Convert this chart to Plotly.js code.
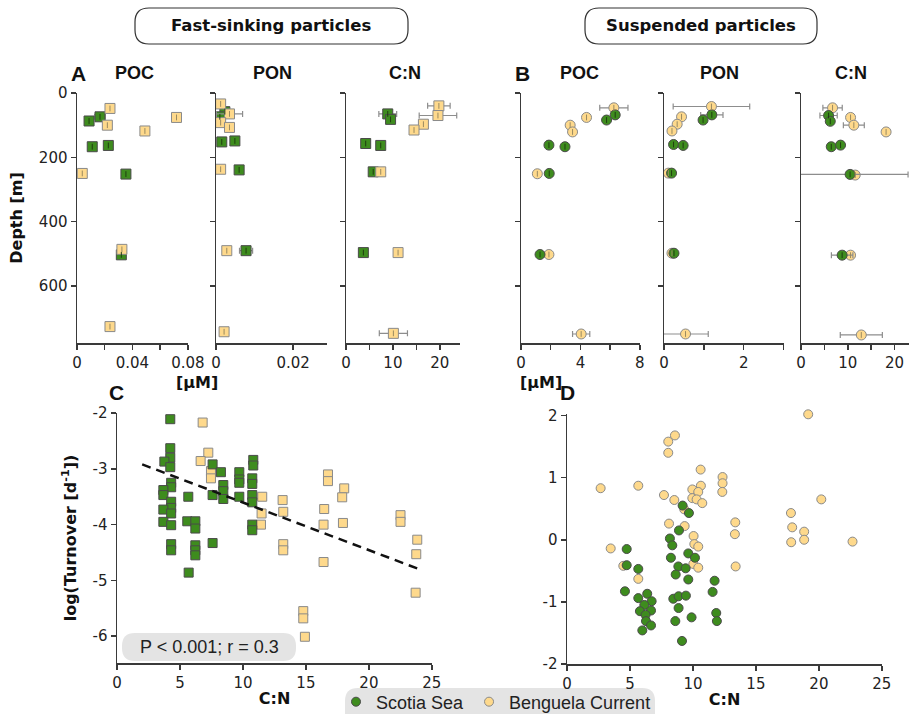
<!DOCTYPE html>
<html><head><meta charset="utf-8">
<script src="https://cdn.plot.ly/plotly-3.0.1.min.js"></script>
<style>html,body{margin:0;padding:0;background:#fff}#chart{width:910px;height:714px}</style>
</head><body><div id="chart"></div>
<script>
// ---------- Panel A: fast-sinking particles (squares) ----------
const aPocScotiaX = [0.0087, 0.0166, 0.011, 0.0226, 0.0353, 0.032];
const aPocScotiaDepth = [87, 74, 167, 163, 252, 503];
const aPocScotiaErr = [NaN, 0.0038, NaN, NaN, NaN, NaN];
const aPocBenguelaX = [0.0238, 0.0718, 0.0219, 0.049, 0.0038, 0.0324, 0.0238];
const aPocBenguelaDepth = [48, 76, 100, 118, 250, 486, 726];
const aPocBenguelaErr = [NaN, NaN, NaN, NaN, NaN, NaN, NaN];

const aPonScotiaX = [0.0023, 0.0010, 0.0015, 0.0049, 0.0060, 0.0078];
const aPonScotiaDepth = [58, 74, 152, 149, 239, 490];
const aPonScotiaErr = [NaN, NaN, NaN, NaN, NaN, 0.0017];
const aPonBenguelaX = [0.0012, 0.0035, 0.0012, 0.0035, 0.0012, 0.0028, 0.0021];
const aPonBenguelaDepth = [34, 65, 92, 107, 237, 490, 742];
const aPonBenguelaErr = [NaN, 0.0034, NaN, NaN, NaN, NaN, NaN];

const aCnScotiaX = [8.9, 9.5, 4.2, 7.4, 5.8, 3.7];
const aCnScotiaDepth = [65, 82, 157, 163, 245, 496];
const aCnScotiaErr = [1.9, NaN, NaN, NaN, NaN, NaN];
const aCnBenguelaX = [19.8, 19.6, 16.5, 14.5, 7.4, 11.1, 10.1];
const aCnBenguelaDepth = [40, 70, 97, 115, 245, 496, 747];
const aCnBenguelaErr = [2.4, 4.0, NaN, NaN, NaN, NaN, 3.0];

// ---------- Panel B: suspended particles (circles) ----------
const bPocScotiaX = [6.34, 5.76, 1.88, 2.96, 1.90, 1.28];
const bPocScotiaDepth = [68, 84, 162, 167, 250, 502];
const bPocScotiaErr = [NaN, NaN, NaN, NaN, NaN, NaN];
const bPocBenguelaX = [6.25, 4.41, 3.31, 3.47, 1.10, 1.88, 4.05];
const bPocBenguelaDepth = [46, 76, 100, 121, 251, 502, 749];
const bPocBenguelaErr = [0.95, NaN, NaN, NaN, NaN, NaN, 0.58];

const bPonScotiaX = [1.20, 0.98, 0.24, 0.48, 0.19, 0.25];
const bPonScotiaDepth = [68, 84, 160, 163, 249, 498];
const bPonScotiaErr = [0.28, NaN, NaN, NaN, NaN, NaN];
const bPonBenguelaX = [1.19, 0.44, 0.33, 0.20, 0.11, 0.20, 0.54];
const bPonBenguelaDepth = [42, 74, 97, 118, 249, 498, 749];
const bPonBenguelaErr = [0.96, NaN, NaN, NaN, NaN, NaN, 0.57];

const bCnScotiaX = [5.9, 6.26, 6.47, 8.46, 10.5, 8.8];
const bCnScotiaDepth = [70, 88, 167, 162, 253, 504];
const bCnScotiaErr = [1.85, NaN, NaN, NaN, 12.4, 2.3];
const bCnBenguelaX = [6.75, 10.6, 11.3, 18.2, 11.6, 10.6, 12.9];
const bCnBenguelaDepth = [46, 76, 100, 121, 255, 504, 752];
const bCnBenguelaErr = [2.07, NaN, 2.24, NaN, NaN, NaN, 4.5];

// ---------- Panel C: fast-sinking turnover vs C:N ----------
const cScotiaCN = [4.23,4.23,4.23,3.76,4.23,4.3,4.3,3.68,3.68,4.3,4.3,3.68,4.3,3.68,4.3,4.3,4.3,5.66,5.58,6.22,6.22,6.22,6.22,6.22,5.69,7.59,7.59,7.59,8.25,8.44,8.44,8.44,9.71,9.71,9.71,9.71,10.82,10.82,10.74,10.74,10.74,10.74,10.74,10.74];
const cScotiaTurn = [-2.11,-2.63,-2.80,-2.87,-2.97,-3.25,-3.33,-3.38,-3.47,-3.59,-3.70,-3.73,-3.80,-3.95,-4.01,-4.35,-4.46,-3.50,-3.94,-3.94,-4.07,-4.37,-4.46,-4.55,-4.86,-2.92,-3.47,-4.33,-3.06,-3.29,-3.40,-3.54,-3.06,-3.19,-3.25,-3.50,-2.84,-2.94,-3.17,-3.27,-3.47,-3.60,-4.00,-4.10];
const cBenguelaCN = [6.80,7.25,6.64,7.46,7.46,11.53,11.48,11.43,13.15,13.2,13.2,13.2,16.75,16.75,18.04,17.88,16.45,16.40,17.94,16.40,14.79,14.79,14.92,22.51,22.51,23.84,23.76,23.71];
const cBenguelaTurn = [-2.17,-2.71,-2.86,-3.04,-3.17,-3.50,-3.80,-4.00,-3.56,-3.77,-4.35,-4.46,-3.10,-3.22,-3.35,-3.51,-3.72,-4.00,-3.97,-4.67,-5.55,-5.68,-6.01,-3.83,-3.95,-4.27,-4.53,-5.22];
const cFitCN = [2.0, 23.9];
const cFitTurn = [-2.92, -4.79];

// ---------- Panel D: suspended turnover vs C:N ----------
const dScotiaCN = [9.18,9.68,8.89,8.17,8.36,8.25,4.74,4.74,9.63,10.16,8.84,9.42,8.63,9.63,5.66,4.60,5.66,6.37,6.72,6.14,5.79,6.67,6.24,6.27,6.67,5.98,8.44,8.86,9.44,8.86,8.60,9.89,9.13,11.72,11.56,11.85,11.90];
const dScotiaTurn = [0.55,0.43,0.15,0.02,-0.09,-0.29,-0.15,-0.41,-0.22,-0.29,-0.43,-0.46,-0.56,-0.64,-0.47,-0.83,-0.94,-0.87,-0.99,-1.05,-1.15,-1.14,-1.21,-1.31,-1.38,-1.46,-0.95,-0.91,-0.90,-1.10,-1.31,-1.25,-1.63,-0.66,-0.84,-1.18,-1.31];
const dBenguelaCN = [19.15,8.57,8.04,8.04,10.61,12.35,12.35,12.33,2.67,5.66,7.70,8.52,9.95,10.63,10.42,9.95,10.29,10.74,9.31,20.19,17.78,13.36,17.88,18.83,18.83,17.80,22.67,13.33,8.10,9.34,10.05,10.11,10.42,10.03,10.42,13.39,3.47,4.47,5.66];
const dBenguelaTurn = [2.02,1.68,1.58,1.40,1.13,1.01,0.91,0.77,0.83,0.87,0.72,0.64,0.81,0.87,0.77,0.67,0.65,0.59,0.49,0.65,0.43,0.28,0.20,0.13,0.00,-0.04,-0.03,0.09,0.26,0.22,0.06,-0.07,-0.11,-0.39,-0.45,-0.43,-0.14,-0.42,-0.63];

const seriesNames = ['Scotia Sea', 'Benguela Current'];

// ---------- styling / layout ----------
const W = 910, H = 714;
const GREEN = '#3e8c1e', YELLOW = '#fed98c';
const GREEN_LINE = '#4a4a4a', YELLOW_LINE = '#8a8a8a';
function xdom(a, b) { return [a / W, b / W]; }
function ydom(t, b) { return [1 - b / H, 1 - t / H]; }
function px(p) { return p / W; }
function py(p) { return 1 - p / H; }
function axName(n, l) { return l + (n === 1 ? '' : n); }

function pts(x, y, err, which, n, symbol, size, legend, clip) {
  const green = which === 0;
  const t = {
    type: 'scatter', mode: 'markers', x: x, y: y,
    xaxis: axName(n, 'x'), yaxis: axName(n, 'y'),
    name: seriesNames[which], legendgroup: seriesNames[which],
    showlegend: !!legend, legendrank: which + 1,
    marker: {symbol: symbol, size: size, color: green ? GREEN : YELLOW,
             line: {color: green ? GREEN_LINE : YELLOW_LINE, width: 1}},
    cliponaxis: clip !== false, hoverinfo: 'x+y'
  };
  if (err) t.error_x = {type: 'data', array: err, visible: true, color: '#8d8d8d', thickness: 1.2, width: 3};
  return t;
}
// thin depth-uncertainty ticks drawn inside the depth-profile markers
function ticks(x, y, which, n) {
  return {type: 'scatter', mode: 'markers', x: x, y: y, xaxis: axName(n, 'x'), yaxis: axName(n, 'y'),
    showlegend: false, hoverinfo: 'skip', marker: {size: 2, opacity: 0},
    error_y: {type: 'constant', value: 9, visible: true, color: which === 0 ? '#1f3d10' : '#9a8a60', thickness: 1, width: 0}};
}

const data = [
  pts(aPocScotiaX, aPocScotiaDepth, aPocScotiaErr, 0, 1, 'square', 10),
  pts(aPocBenguelaX, aPocBenguelaDepth, aPocBenguelaErr, 1, 1, 'square', 10),
  ticks(aPocScotiaX, aPocScotiaDepth, 0, 1), ticks(aPocBenguelaX, aPocBenguelaDepth, 1, 1),
  pts(aPonScotiaX, aPonScotiaDepth, aPonScotiaErr, 0, 2, 'square', 10),
  pts(aPonBenguelaX, aPonBenguelaDepth, aPonBenguelaErr, 1, 2, 'square', 10),
  ticks(aPonScotiaX, aPonScotiaDepth, 0, 2), ticks(aPonBenguelaX, aPonBenguelaDepth, 1, 2),
  pts(aCnScotiaX, aCnScotiaDepth, aCnScotiaErr, 0, 3, 'square', 10),
  pts(aCnBenguelaX, aCnBenguelaDepth, aCnBenguelaErr, 1, 3, 'square', 10),
  ticks(aCnScotiaX, aCnScotiaDepth, 0, 3), ticks(aCnBenguelaX, aCnBenguelaDepth, 1, 3),
  pts(bPocBenguelaX, bPocBenguelaDepth, bPocBenguelaErr, 1, 4, 'circle', 10),
  pts(bPocScotiaX, bPocScotiaDepth, bPocScotiaErr, 0, 4, 'circle', 10),
  ticks(bPocScotiaX, bPocScotiaDepth, 0, 4), ticks(bPocBenguelaX, bPocBenguelaDepth, 1, 4),
  pts(bPonBenguelaX, bPonBenguelaDepth, bPonBenguelaErr, 1, 5, 'circle', 10),
  pts(bPonScotiaX, bPonScotiaDepth, bPonScotiaErr, 0, 5, 'circle', 10),
  ticks(bPonScotiaX, bPonScotiaDepth, 0, 5), ticks(bPonBenguelaX, bPonBenguelaDepth, 1, 5),
  pts(bCnBenguelaX, bCnBenguelaDepth, bCnBenguelaErr, 1, 6, 'circle', 10),
  pts(bCnScotiaX, bCnScotiaDepth, bCnScotiaErr, 0, 6, 'circle', 10),
  ticks(bCnScotiaX, bCnScotiaDepth, 0, 6), ticks(bCnBenguelaX, bCnBenguelaDepth, 1, 6),
  pts(cBenguelaCN, cBenguelaTurn, null, 1, 7, 'square', 9),
  pts(cScotiaCN, cScotiaTurn, null, 0, 7, 'square', 9),
  {type: 'scatter', mode: 'lines', x: cFitCN, y: cFitTurn, xaxis: 'x7', yaxis: 'y7',
   line: {color: '#111', width: 2.5, dash: '9px,6px'}, showlegend: false, hoverinfo: 'skip'},
  pts(dBenguelaCN, dBenguelaTurn, null, 1, 8, 'circle', 9, true, false),
  pts(dScotiaCN, dScotiaTurn, null, 0, 8, 'circle', 9, true, false)
];

const AX = '#3a3a3a';
const tickfont = {family: 'DejaVu Sans', size: 15, color: '#222'};
function axis(extra) {
  return Object.assign({
    showline: true, linecolor: AX, linewidth: 1.5, ticks: 'outside', ticklen: 5,
    tickwidth: 1.5, tickcolor: AX, showgrid: false, zeroline: false,
    tickfont: tickfont, fixedrange: true, autorange: false
  }, extra);
}
function minor(d) { return {dtick: d, ticks: 'outside', ticklen: 5, tickwidth: 1.5, tickcolor: AX, showgrid: false}; }

const topY = [93, 343];
const depthRange = [777, 0];
function depthAxis(n, labels) {
  return axis({domain: ydom(topY[0], topY[1]), range: depthRange, anchor: axName(n, 'x'),
    tickmode: 'array', tickvals: [0, 200, 400, 600], showticklabels: labels});
}

const layout = {
  width: W, height: H, margin: {l: 0, r: 0, t: 0, b: 0, autoexpand: false},
  paper_bgcolor: '#fff', plot_bgcolor: 'rgba(0,0,0,0)',
  font: {family: 'DejaVu Sans', size: 15, color: '#222'},
  showlegend: true,
  legend: {orientation: 'h', x: px(496), y: py(702), xanchor: 'center', yanchor: 'middle',
           bgcolor: 'rgba(0,0,0,0)', font: {family: 'Liberation Sans', size: 18, color: '#222'},
           traceorder: 'normal', itemwidth: 30},
  xaxis: axis({domain: xdom(77, 188), range: [0, 0.0801], anchor: 'y', tick0: 0, dtick: 0.04, minor: minor(0.02)}),
  yaxis: Object.assign(depthAxis(1, true), {title: {text: '<b>Depth [m]</b>', font: {family: 'DejaVu Sans', size: 16, color: '#111'}, standoff: 12}}),
  xaxis2: axis({domain: xdom(216, 327), range: [0, 0.0288], anchor: 'y2', tick0: 0, dtick: 0.02}),
  yaxis2: depthAxis(2, false),
  xaxis3: axis({domain: xdom(346, 460), range: [0, 24.3], anchor: 'y3', tick0: 0, dtick: 10, minor: minor(5)}),
  yaxis3: depthAxis(3, false),
  xaxis4: axis({domain: xdom(521, 640), range: [0, 8.01], anchor: 'y4', tick0: 0, dtick: 4, minor: minor(2)}),
  yaxis4: depthAxis(4, false),
  xaxis5: axis({domain: xdom(664, 784), range: [0, 3.01], anchor: 'y5', tick0: 0, dtick: 2, minor: minor(1)}),
  yaxis5: depthAxis(5, false),
  xaxis6: axis({domain: xdom(801, 909), range: [0, 23.1], anchor: 'y6', tick0: 0, dtick: 10, minor: minor(5)}),
  yaxis6: depthAxis(6, false),
  xaxis7: axis({domain: xdom(117, 432), range: [0, 25.01], anchor: 'y7', tick0: 0, dtick: 5,
    title: {text: '<b>C:N</b>', font: {family: 'DejaVu Sans', size: 16, color: '#111'}, standoff: 2}}),
  yaxis7: axis({domain: ydom(413, 663), range: [-6.48, -1.999], anchor: 'x7', tickmode: 'array',
    tickvals: [-2, -3, -4, -5, -6], ticktext: ['-2', '-3', '-4', '-5', '-6'],
    title: {text: '<b>log(Turnover [d<sup>-1</sup>])</b>', font: {family: 'DejaVu Sans', size: 16, color: '#111'}, standoff: 12}}),
  xaxis8: axis({domain: xdom(567, 882), range: [0, 25.01], anchor: 'y8', tick0: 0, dtick: 5,
    title: {text: '<b>C:N</b>', font: {family: 'DejaVu Sans', size: 16, color: '#111'}, standoff: 2}}),
  yaxis8: axis({domain: ydom(414, 664), range: [-2.001, 2.025], anchor: 'x8', tickmode: 'array',
    tickvals: [2, 1, 0, -1, -2], ticktext: ['2', '1', '0', '-1', '-2']}),
  shapes: [],
  annotations: []
};

function rrect(x0, y0, x1, y1, r, fill, lineColor, lineWidth) {
  const X = v => (v / W).toFixed(5), Y = v => (1 - v / H).toFixed(5);
  const p = 'M' + X(x0 + r) + ',' + Y(y0) + ' L' + X(x1 - r) + ',' + Y(y0) +
    ' Q' + X(x1) + ',' + Y(y0) + ' ' + X(x1) + ',' + Y(y0 + r) +
    ' L' + X(x1) + ',' + Y(y1 - r) +
    ' Q' + X(x1) + ',' + Y(y1) + ' ' + X(x1 - r) + ',' + Y(y1) +
    ' L' + X(x0 + r) + ',' + Y(y1) +
    ' Q' + X(x0) + ',' + Y(y1) + ' ' + X(x0) + ',' + Y(y1 - r) +
    ' L' + X(x0) + ',' + Y(y0 + r) +
    ' Q' + X(x0) + ',' + Y(y0) + ' ' + X(x0 + r) + ',' + Y(y0) + ' Z';
  return {type: 'path', path: p, xref: 'paper', yref: 'paper', fillcolor: fill, layer: 'below',
          line: {color: lineColor || 'rgba(0,0,0,0)', width: lineWidth || 0}};
}
layout.shapes.push(rrect(135, 8, 408, 44, 14, '#fff', '#333', 1.2));
layout.shapes.push(rrect(585, 8, 817, 44, 14, '#fff', '#333', 1.2));
layout.shapes.push(rrect(122, 633, 296, 661, 13, '#e4e4e4'));
layout.shapes.push(rrect(345, 688, 655, 726, 13, '#e4e4e4'));

function ann(text, x, y, font, extra) {
  return Object.assign({text: text, x: px(x), y: py(y), xref: 'paper', yref: 'paper',
    xanchor: 'center', yanchor: 'middle', showarrow: false, font: font}, extra || {});
}
const headFont = {family: 'DejaVu Sans', size: 16.5, color: '#111'};
const colFont = {family: 'Liberation Sans', size: 18, color: '#111'};
const letterFont = {family: 'Liberation Sans', size: 21, color: '#111'};
const unitFont = {family: 'DejaVu Sans', size: 16, color: '#111'};
layout.annotations.push(
  ann('<b>Fast-sinking particles</b>', 271, 26, headFont),
  ann('<b>Suspended particles</b>', 701, 26, headFont),
  ann('<b>A</b>', 78, 74, letterFont),
  ann('<b>POC</b>', 134, 73, colFont),
  ann('<b>PON</b>', 272, 73, colFont),
  ann('<b>C:N</b>', 405, 73, colFont),
  ann('<b>B</b>', 522, 74, letterFont),
  ann('<b>POC</b>', 579, 73, colFont),
  ann('<b>PON</b>', 719, 73, colFont),
  ann('<b>C:N</b>', 851, 73, colFont),
  ann('<b>[µM]</b>', 197, 382, unitFont),
  ann('<b>[µM]</b>', 541, 382, unitFont),
  ann('<b>C</b>', 117, 392, letterFont),
  ann('<b>D</b>', 567, 392, letterFont),
  ann('P < 0.001; r = 0.3', 209, 647, {family: 'Liberation Sans', size: 18, color: '#222'})
);

Plotly.newPlot('chart', data, layout, {staticPlot: true, displayModeBar: false});
</script></body></html>
